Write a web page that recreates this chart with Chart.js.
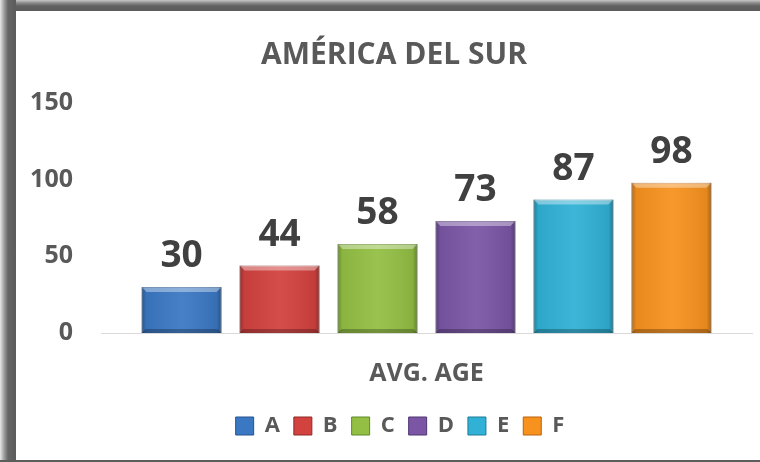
<!DOCTYPE html>
<html>
<head>
<meta charset="utf-8">
<script src="https://cdn.jsdelivr.net/npm/chart.js@4.4.1/dist/chart.umd.min.js"></script>
<style>
body { margin: 0; background: #fff; }
#wrap { position: relative; width: 760px; height: 462px; overflow: hidden; background: #fff; }
#topband { position: absolute; left: 0; top: 0; width: 760px; height: 11px; background: linear-gradient(to bottom, #c8c8c8 0px, #8a8a8a 3px, #606060 6px, #5c5c5c 11px); }
#leftband { position: absolute; left: 0; top: 0; width: 16px; height: 462px; background: linear-gradient(to right, #e8e8e8 0px, #a0a0a0 4px, #666 8px, #5c5c5c 16px); }
#botline { position: absolute; left: 0; top: 460px; width: 760px; height: 2px; background: #5c5c5c; }
#box { position: absolute; left: 16px; top: 11px; width: 744px; height: 449px; }
</style>
</head>
<body>
<div id="wrap">
  <div id="topband"></div>
  <div id="leftband"></div>
  <div id="botline"></div>
  <div id="box"><canvas id="chart_canvas"></canvas></div>
</div>
<script>
var categories = ['AVG. AGE'];
var seriesNames = ['A', 'B', 'C', 'D', 'E', 'F'];
var seriesValues = [30, 44, 58, 73, 87, 98];
var seriesColors = ['#3b78c3', '#d2423f', '#93bf44', '#7b56a5', '#30b1d5', '#f7921f'];
var edgeColors = ['#24558f', '#8f2a28', '#5f8a26', '#513675', '#1d7c98', '#b8620d'];
var yTicks = [0, 50, 100, 150];

var textGray = '#595959';

var datasets = [];
for (var i = 0; i < seriesNames.length; i++) {
	datasets.push({
		label: seriesNames[i],
		data: [seriesValues[i]],
		backgroundColor: seriesColors[i],
		borderColor: edgeColors[i],
		borderWidth: 1,
		categoryPercentage: 0.903,
		barPercentage: 0.816
	});
}

// bevel look on top of every bar, Excel style
var bevelPlugin = {
	id: 'bevel',
	afterDatasetsDraw: function(chart) {
		var ctx = chart.ctx;
		chart.data.datasets.forEach(function(ds, di) {
			var meta = chart.getDatasetMeta(di);
			meta.data.forEach(function(bar) {
				var w = bar.width;
				var l = bar.x - w / 2;
				var r = bar.x + w / 2;
				var t = bar.y;
				var b = bar.base;
				ctx.save();
				var g = ctx.createLinearGradient(l, 0, r, 0);
				g.addColorStop(0, 'rgba(0,0,0,0.28)');
				g.addColorStop(0.06, 'rgba(0,0,0,0.06)');
				g.addColorStop(0.5, 'rgba(255,255,255,0.06)');
				g.addColorStop(0.94, 'rgba(0,0,0,0.08)');
				g.addColorStop(1, 'rgba(0,0,0,0.32)');
				ctx.fillStyle = g;
				ctx.fillRect(l, t, w, b - t);
				// top highlight with slanted corners
				ctx.beginPath();
				ctx.moveTo(l, t);
				ctx.lineTo(r, t);
				ctx.lineTo(r - 5, t + 5);
				ctx.lineTo(l + 5, t + 5);
				ctx.closePath();
				ctx.fillStyle = 'rgba(255,255,255,0.38)';
				ctx.fill();
				// bottom shade
				ctx.beginPath();
				ctx.moveTo(l, b);
				ctx.lineTo(r, b);
				ctx.lineTo(r - 4, b - 4);
				ctx.lineTo(l + 4, b - 4);
				ctx.closePath();
				ctx.fillStyle = 'rgba(0,0,0,0.25)';
				ctx.fill();
				ctx.restore();
			});
		});
	}
};

var valueLabels = {
	id: 'valueLabels',
	afterDatasetsDraw: function(chart) {
		var ctx = chart.ctx;
		ctx.save();
		ctx.font = 'bold 37px "Open Sans"';
		ctx.fillStyle = '#404040';
		ctx.textAlign = 'center';
		ctx.textBaseline = 'alphabetic';
		chart.data.datasets.forEach(function(ds, di) {
			var meta = chart.getDatasetMeta(di);
			meta.data.forEach(function(bar, j) {
				ctx.fillText(ds.data[j], bar.x, bar.y - 20);
			});
		});
		ctx.restore();
	}
};

// legend and title in the original sit a bit right of the canvas centre
var boxShift = {
	id: 'boxShift',
	afterLayout: function(chart) {
		chart.legend.left += 16;
		chart.legend.right += 16;
		chart.titleBlock.left += 10;
		chart.titleBlock.right += 10;
	}
};

var ctx = document.getElementById('chart_canvas').getContext('2d');
var myChart = new Chart(ctx, {
	type: 'bar',
	data: {
		labels: categories,
		datasets: datasets
	},
	plugins: [bevelPlugin, valueLabels, boxShift],
	options: {
		responsive: true,
		maintainAspectRatio: false,
		animation: false,
		layout: { padding: { left: 0, right: 8, top: 0, bottom: 13 } },
		plugins: {
			title: {
				display: true,
				text: 'AMÉRICA DEL SUR',
				color: textGray,
				font: { family: 'Open Sans', size: 30, weight: 'bold' },
				padding: { top: 26, bottom: 30 }
			},
			legend: {
				position: 'bottom',
				labels: {
					color: textGray,
					font: { family: 'Open Sans', size: 22, weight: 'bold' },
					boxWidth: 18,
					boxHeight: 18,
					padding: 14,
					generateLabels: function(chart) {
						return chart.data.datasets.map(function(ds, i) {
							return {
								text: ds.label,
								fillStyle: seriesColors[i],
								strokeStyle: edgeColors[i],
								lineWidth: 1,
								fontColor: textGray,
								datasetIndex: i
							};
						});
					}
				}
			},
			tooltip: { enabled: false }
		},
		scales: {
			x: {
				grid: { display: false, drawTicks: false },
				border: { display: true, color: '#d9d9d9', width: 1 },
				ticks: {
					color: textGray,
					padding: 26,
					font: { family: 'Open Sans', size: 25, weight: 'bold' }
				},
				afterFit: function(scale) { scale.height = 68; }
			},
			y: {
				min: 0,
				max: 150,
				afterBuildTicks: function(scale) {
					scale.ticks = yTicks.map(function(v) { return { value: v }; });
				},
				grid: { display: false, drawTicks: false },
				border: { display: false },
				ticks: {
					color: textGray,
					padding: 28,
					font: { family: 'Open Sans', size: 25, weight: 'bold' }
				},
				afterFit: function(scale) { scale.width = 85; }
			}
		}
	}
});
console.log(myChart.chartArea);
</script>
</body>
</html>
